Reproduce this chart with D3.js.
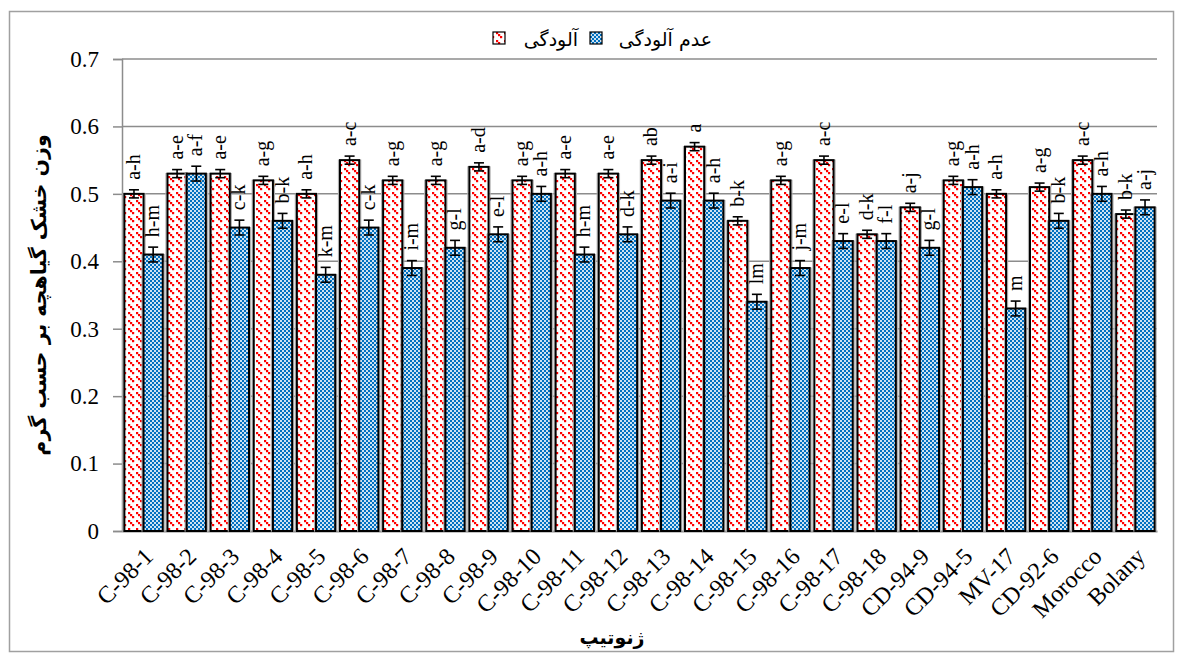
<!DOCTYPE html>
<html><head><meta charset="utf-8">
<script src="https://cdn.jsdelivr.net/npm/d3@7"></script>
<style>body{margin:0;background:#fff}svg{display:block}
.serif{font-family:"Liberation Serif","Times New Roman",serif}
.fa{font-family:"DejaVu Sans",sans-serif}
</style>
</head><body>
<svg id="c" width="1179" height="656"></svg>
<script>
const categories = ["C-98-1","C-98-2","C-98-3","C-98-4","C-98-5","C-98-6","C-98-7","C-98-8","C-98-9","C-98-10","C-98-11","C-98-12","C-98-13","C-98-14","C-98-15","C-98-16","C-98-17","C-98-18","CD-94-9","CD-94-5","MV-17","CD-92-6","Morocco","Bolany"];
const infected = [0.50,0.53,0.53,0.52,0.50,0.55,0.52,0.52,0.54,0.52,0.53,0.53,0.55,0.57,0.46,0.52,0.55,0.44,0.48,0.52,0.50,0.51,0.55,0.47];
const infectedErr = [0.006,0.006,0.006,0.006,0.006,0.006,0.006,0.006,0.006,0.006,0.006,0.006,0.006,0.006,0.006,0.006,0.006,0.006,0.006,0.006,0.006,0.006,0.006,0.006];
const infectedLetters = ["a-h","a-e","a-e","a-g","a-h","a-c","a-g","a-g","a-d","a-g","a-e","a-e","ab","a","b-k","a-g","a-c","d-k","a-j","a-g","a-h","a-g","a-c","b-k"];
const healthy = [0.41,0.53,0.45,0.46,0.38,0.45,0.39,0.42,0.44,0.50,0.41,0.44,0.49,0.49,0.34,0.39,0.43,0.43,0.42,0.51,0.33,0.46,0.50,0.48];
const healthyErr = [0.011,0.011,0.011,0.011,0.011,0.011,0.011,0.011,0.011,0.011,0.011,0.011,0.011,0.011,0.011,0.011,0.011,0.011,0.011,0.011,0.011,0.011,0.011,0.011];
const healthyLetters = ["h-m","a-f","c-k","b-k","k-m","c-k","i-m","g-l","e-l","a-h","h-m","d-k","a-i","a-h","lm","j-m","e-l","f-l","g-l","a-h","m","b-k","a-h","a-j"];
const yTicks = [0,0.1,0.2,0.3,0.4,0.5,0.6,0.7];
const seriesNames = ["آلودگی","عدم آلودگی"];
const yTitle = "وزن خشک گیاهچه بر حسب گرم";
const xTitle = "ژنوتیپ";

const svg = d3.select("#c");

const defs = svg.append("defs");
const pr = defs.append("pattern").attr("id","pRed").attr("patternUnits","userSpaceOnUse").attr("width",8).attr("height",8);
pr.append("rect").attr("width",8).attr("height",8).attr("fill","#fff");
[[0,0],[2,2],[4,4]].forEach(([a,b])=>pr.append("rect").attr("x",a).attr("y",b).attr("width",2.2).attr("height",2.2).attr("fill","#ff0000"));
const pb = defs.append("pattern").attr("id","pBlue").attr("patternUnits","userSpaceOnUse").attr("width",4).attr("height",4);
pb.append("rect").attr("width",4).attr("height",4).attr("fill","#0070c0");
pb.append("rect").attr("x",0).attr("y",0).attr("width",2).attr("height",2).attr("fill","#fff").attr("opacity",0.8);
pb.append("rect").attr("x",2).attr("y",2).attr("width",2).attr("height",2).attr("fill","#fff").attr("opacity",0.8);

svg.append("rect").attr("x",9.5).attr("y",11.5).attr("width",1164).attr("height",640)
  .attr("fill","none").attr("stroke","#a0a0a0").attr("stroke-width",1.5);

const pL = 122, pR = 1157, pT = 59, pB = 531;
const x = d3.scaleBand().domain(categories).range([pL,pR]).paddingInner(0.11).paddingOuter(0.055);
const xs = d3.scaleBand().domain([0,1]).range([0,x.bandwidth()]);
const y = d3.scaleLinear().domain([0,0.7]).range([pB,pT]);

svg.append("g").selectAll("line").data(yTicks.filter(d=>d>0)).join("line")
  .attr("x1",pL).attr("x2",pR).attr("y1",d=>y(d)).attr("y2",d=>y(d))
  .attr("stroke","#8c8c8c").attr("stroke-width",1.5);

const ya = svg.append("g").attr("transform",`translate(${pL},0)`)
  .call(d3.axisLeft(y).tickValues(yTicks).tickFormat(d=>d===0?"0":d3.format(".1f")(d)).tickSize(9).tickPadding(14));
ya.attr("font-family",null).attr("font-size",null);
ya.select(".domain").attr("stroke","#8c8c8c").attr("stroke-width",1.5);
ya.selectAll(".tick line").attr("stroke","#8c8c8c").attr("stroke-width",1.5);
ya.selectAll("text").attr("class","serif").style("font-size","23px").attr("fill","#000");

const xa = svg.append("g").attr("transform",`translate(0,${pB})`)
  .call(d3.axisBottom(x).tickSize(0).tickPadding(0));
xa.attr("font-family",null).attr("font-size",null);
xa.select(".domain").attr("stroke","#8c8c8c").attr("stroke-width",2);
xa.selectAll("text").attr("class","serif").style("font-size","24px").attr("fill","#000")
  .attr("text-anchor","end").attr("dy","0.35em")
  .attr("transform","translate(5,21) rotate(-45)");

const groups = [
  {vals:infected, errs:infectedErr, letters:infectedLetters, fill:"url(#pRed)", k:0},
  {vals:healthy, errs:healthyErr, letters:healthyLetters, fill:"url(#pBlue)", k:1}
];
const plot = svg.append("g");
groups.forEach(g=>{
  const data = categories.map((c,i)=>({c, v:g.vals[i], e:g.errs[i], l:g.letters[i]}));
  const bx = d=>x(d.c)+xs(g.k);
  const bw = xs.bandwidth();
  plot.append("g").selectAll("rect").data(data).join("rect")
    .attr("x",d=>bx(d)-1.5).attr("y",d=>y(d.v)).attr("width",bw+3).attr("height",d=>pB-y(d.v))
    .attr("fill","none").attr("stroke","#b0b0b0").attr("stroke-width",1.2);
  plot.append("g").selectAll("rect").data(data).join("rect")
    .attr("x",bx).attr("y",d=>y(d.v)).attr("width",bw).attr("height",d=>pB-y(d.v))
    .attr("fill",g.fill).attr("stroke","#000").attr("stroke-width",2);
  const eb = plot.append("g").attr("stroke","#000").attr("stroke-width",1.6);
  data.forEach(d=>{
    const cx = bx(d)+bw/2;
    eb.append("line").attr("x1",cx).attr("x2",cx).attr("y1",y(d.v-d.e)).attr("y2",y(d.v+d.e));
    eb.append("line").attr("x1",cx-5).attr("x2",cx+5).attr("y1",y(d.v-d.e)).attr("y2",y(d.v-d.e));
    eb.append("line").attr("x1",cx-5).attr("x2",cx+5).attr("y1",y(d.v+d.e)).attr("y2",y(d.v+d.e));
  });
  plot.append("g").selectAll("text").data(data).join("text")
    .attr("class","serif")
    .attr("transform",d=>`translate(${bx(d)+bw/2+6},${y(d.v+d.e)-10}) rotate(-90)`)
    .style("font-size","20px").attr("fill","#000")
    .text(d=>d.l);
});

const lg = svg.append("g");
const legendItems = [
  {name:seriesNames[0], fill:"url(#pRed)", sx:493, tx:578},
  {name:seriesNames[1], fill:"url(#pBlue)", sx:590, tx:712}
];
legendItems.forEach(it=>{
  lg.append("rect").attr("x",it.sx).attr("y",32).attr("width",12).attr("height",12)
    .attr("fill",it.fill).attr("stroke","#000").attr("stroke-width",1.2);
  lg.append("text").attr("class","fa").attr("x",it.tx).attr("y",46).attr("text-anchor","end")
    .style("font-size","19px").attr("fill","#000").text(it.name);
});

svg.append("text").attr("class","fa").attr("transform",`translate(46,${(pT+pB)/2}) rotate(-90)`)
  .attr("text-anchor","middle").attr("font-weight","bold")
  .style("font-size","20.5px").attr("fill","#000").text(yTitle);
svg.append("text").attr("class","fa").attr("x",612).attr("y",644).attr("text-anchor","middle")
  .attr("font-weight","bold").style("font-size","19px").attr("fill","#000").text(xTitle);
</script>
</body></html>
